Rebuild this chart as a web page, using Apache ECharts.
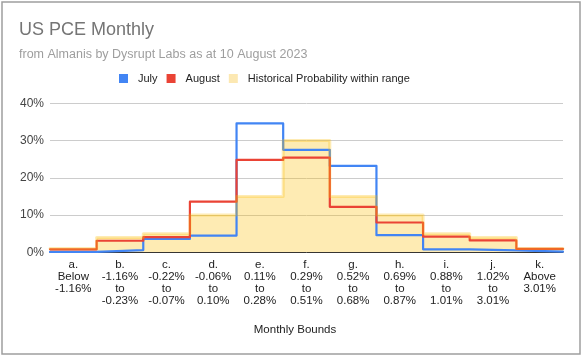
<!DOCTYPE html>
<html>
<head>
<meta charset="utf-8">
<script src="https://cdn.jsdelivr.net/npm/echarts@6/dist/echarts.min.js"></script>
<style>html,body{margin:0;padding:0;background:#fff;}#c{width:585px;height:358px;}</style>
</head>
<body>
<div id="c"></div>
<script>
const categories = [
  'a.\nBelow\n-1.16%',
  'b.\n-1.16%\nto\n-0.23%',
  'c.\n-0.22%\nto\n-0.07%',
  'd.\n-0.06%\nto\n0.10%',
  'e.\n0.11%\nto\n0.28%',
  'f.\n0.29%\nto\n0.51%',
  'g.\n0.52%\nto\n0.68%',
  'h.\n0.69%\nto\n0.87%',
  'i.\n0.88%\nto\n1.01%',
  'j.\n1.02%\nto\n3.01%',
  'k.\nAbove\n3.01%'
];
const july = [0.1, 0.6, 3.6, 4.5, 34.6, 27.5, 23.2, 4.6, 0.8, 0.5, 0.2];
const august = [0.8, 3.1, 4.1, 13.6, 24.8, 25.4, 12.2, 8.0, 4.2, 3.2, 0.9];
const historical = [1, 4, 5, 10, 15, 30, 15, 10, 5, 4, 1];
const yTicks = [0, 10, 20, 30, 40];

const FONT = 'Liberation Sans, Arial, sans-serif';
function stepData(vals) {
  const d = vals.map((v, i) => [i, v]);
  d.push([vals.length, vals[vals.length - 1]]);
  return d;
}
const chart = echarts.init(document.getElementById('c'), null, {renderer: 'canvas'});
chart.setOption({
  animation: false,
  textStyle: {fontFamily: FONT},
  title: [
    {text: 'US PCE Monthly', left: 14, top: 16, textStyle: {fontSize: 18, fontWeight: 'normal', color: '#757575', fontFamily: FONT}},
    {text: 'from Almanis by Dysrupt Labs as at 10 August 2023', left: 14, top: 43, textStyle: {fontSize: 12.5, fontWeight: 'normal', color: '#9e9e9e', fontFamily: FONT}}
  ],
  legend: {
    left: 114, top: 68, icon: 'rect', itemWidth: 9, itemHeight: 9, itemGap: 9,
    data: ['July', 'August', 'Historical Probability within range'],
    textStyle: {fontSize: 11, color: '#222', fontFamily: FONT, padding: [0, 0, 0, 5]}
  },
  grid: {left: 50, right: 22, top: 103.3, bottom: 105.7},
  xAxis: [
    {type: 'category', data: categories, boundaryGap: true,
     axisLine: {show: true, lineStyle: {color: '#333', width: 1}},
     axisTick: {show: false},
     axisLabel: {fontSize: 11.5, lineHeight: 12, color: '#222', margin: 7, interval: 0, fontFamily: FONT}},
    {type: 'value', min: 0, max: 11, show: false}
  ],
  yAxis: {
    type: 'value', min: 0, max: 40, interval: 10,
    axisLine: {show: false}, axisTick: {show: false},
    splitLine: {lineStyle: {color: '#cccccc', width: 1}},
    axisLabel: {formatter: v => yTicks.includes(v) ? v + '%' : '', fontSize: 12, color: '#444', margin: 6, fontFamily: FONT}
  },
  series: [
    {name: 'Historical Probability within range', type: 'line', xAxisIndex: 1, step: 'end', showSymbol: false,
     data: stepData(historical), itemStyle: {color: '#fce8b2'},
     lineStyle: {width: 0, opacity: 0}, areaStyle: {color: 'rgba(251,188,4,0.3)', opacity: 1}},
    {name: 'July', type: 'line', xAxisIndex: 1, step: 'end', showSymbol: false,
     data: stepData(july), itemStyle: {color: '#4285f4'},
     lineStyle: {width: 2.2, color: '#4285f4', join: 'round', cap: 'round'}},
    {name: 'August', type: 'line', xAxisIndex: 1, step: 'end', showSymbol: false,
     data: stepData(august), itemStyle: {color: '#ea4335'},
     lineStyle: {width: 2.2, color: '#ea4335', join: 'round', cap: 'round'}},
    {name: 'Historical Probability within range', type: 'line', xAxisIndex: 1, step: 'end', showSymbol: false,
     data: stepData(historical), itemStyle: {color: '#fce8b2'},
     lineStyle: {width: 3, color: 'rgba(251,188,4,0.3)', join: 'round', cap: 'round'}}
  ],
  graphic: [
    {type: 'rect', shape: {x: 2, y: 2, width: 578, height: 352}, style: {fill: 'none', stroke: '#9e9e9e', lineWidth: 1.5}, silent: true},
    {type: 'text', x: 295, y: 330, style: {text: 'Monthly Bounds', font: '11.5px ' + FONT, fill: '#222', textAlign: 'center', textVerticalAlign: 'middle'}}
  ]
});
</script>
</body>
</html>
